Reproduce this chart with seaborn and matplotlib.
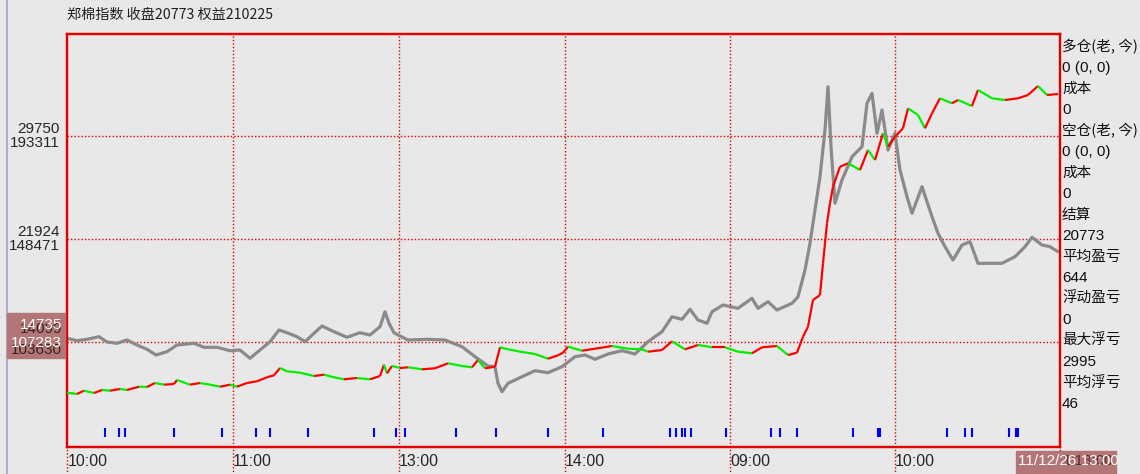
import numpy as np
import matplotlib
matplotlib.use('Agg')
import matplotlib.pyplot as plt
import seaborn as sns
from matplotlib import font_manager
from matplotlib.collections import LineCollection
from matplotlib.patches import Rectangle
from matplotlib.lines import Line2D

# --- data (x = bar index) ---
price_x = [0, 10, 17, 27, 35, 43, 53, 60, 72, 80, 88, 97, 107, 110, 123, 133, 143, 153, 163, 170,
           180, 190, 200, 207, 213, 220, 233, 247, 257, 267, 277, 290, 303, 313, 317, 320, 325, 333, 341, 355,
           368, 381, 395, 405, 411, 418, 428, 433, 441, 455, 468, 481, 491, 496, 501, 515, 528, 545, 561, 575,
           581, 595, 605, 618, 631, 645, 658, 671, 685, 695, 710, 721, 730, 736, 741, 746, 753, 756, 760, 763,
           766, 773, 781, 793, 801, 808, 816, 821, 828, 836, 841, 851, 858, 865, 873, 885, 891, 905, 911, 925,
           938, 951, 961, 971, 980, 991]
price = [10246, 10147, 10398, 10223, 10451, 10398, 10527, 10451, 10702, 10679, 10983, 10854, 10907, 11211,
         10854, 10983, 10854, 10702, 10854, 10702, 10983, 11112, 11416, 11568, 12123, 11872, 11765, 11515,
         11614, 11416, 11264, 11363, 11264, 11515, 12373, 11720, 12275, 12123, 12176, 12024, 12100, 12480,
         12275, 12176, 12730, 12100, 12221, 13695, 13543, 13338, 13186, 12829, 13088, 13285, 13741, 13437,
         13589, 13794, 13589, 13543, 13361, 13490, 14151, 13543, 13870, 13695, 13695, 13361, 13239, 13695,
         13794, 13110, 13285, 14501, 15261, 17289, 17669, 20078, 23117, 24636, 25898, 27417, 27676, 27167,
         28686, 27926, 29955, 28937, 29697, 30335, 31855, 31346, 30335, 31475, 32614, 32235, 32485, 32029,
         33245, 32614, 32485, 32614, 32865, 33549, 32865, 32941]

equity_x = [0, 10, 20, 32, 40, 50, 60, 70, 80, 89, 100, 110, 127, 137, 150, 163, 173, 183, 193, 203,
            212, 220, 230, 238, 247, 255, 267, 280, 293, 303, 313, 318, 322, 327, 333, 341, 361, 378, 395, 408,
            421, 428, 431, 435, 441, 455, 468, 481, 495, 508, 518, 528, 541, 555, 568, 581, 595, 605, 615, 623,
            631, 640, 645, 656, 671, 685, 691, 701, 710, 725, 731, 738, 743, 748, 753, 758, 761, 764, 768, 775,
            785, 795, 800, 805, 810, 815, 821, 828, 833, 840, 845, 855, 865, 871, 878, 886, 895, 903, 911, 921,
            935, 948, 958, 965, 975, 983, 991]
equity = [105246, 104201, 104810, 105942, 103635, 103069, 104506, 102329, 100457, 97976, 99413, 102329,
          103069, 101328, 101328, 99848, 100153, 96540, 100153, 103766, 108859, 107683, 105942, 103766,
          107422, 110600, 108119, 105681, 107683, 106682, 110295, 116825, 111775, 107683, 106247, 104506,
          104810, 104506, 101589, 97236, 93188, 92883, 85657, 82001, 85657, 88529, 91142, 90271, 92883,
          97236, 97976, 96104, 98411, 99848, 98411, 103766, 108119, 114648, 113516, 117869, 113212, 111775,
          116825, 119741, 118305, 122658, 118305, 121178, 117565, 120481, 123354, 134977, 146599, 161095,
          175590, 195919, 214767, 188649, 164011, 174154, 184296, 188649, 207541, 211894, 194482, 204625,
          187213, 194482, 178507, 166884, 159658, 171237, 158178, 150952, 145119, 139330, 145859, 147296,
          137893, 137893, 137893, 140766, 145119, 149211, 145859, 145119, 142943]

trade_marks = [38, 52, 58, 107, 155, 189, 203, 241, 307, 329, 338, 389, 429, 481, 536, 603, 609, 615, 618,
               624, 659, 704, 713, 730, 786, 811, 813, 880, 898, 905, 942, 949, 951]

time_pos = [1, 166, 332, 498, 663, 828]
time_labels = ['10:00', '11:00', '13:00', '14:00', '09:00', '10:00']
grid_x = [166, 332, 498, 663, 828]

price_ticks = [29750, 21924]
equity_ticks = [193311, 148471, 103630]

side_labels = ['多仓(老, 今)', '0 (0, 0)', '成本', '0', '空仓(老, 今)', '0 (0, 0)', '成本', '0',
               '结算', '20773', '平均盈亏', '644', '浮动盈亏', '0', '最大浮亏', '2995', '平均浮亏', '46']

BG = '#e8e8e8'
RED = '#e00000'

sns.set_theme(style='white')
names = {f.name for f in font_manager.fontManager.ttflist}
NARROW = 'Liberation Sans Narrow' if 'Liberation Sans Narrow' in names else 'Liberation Sans'
CJK = ['Noto Sans CJK SC', 'DejaVu Sans']
plt.rcParams['font.family'] = [NARROW, 'DejaVu Sans']

fig = plt.figure(figsize=(11.4, 4.74), dpi=100, facecolor=BG)
ax = fig.add_axes([67 / 1140, 27 / 474, 993 / 1140, 413 / 474])
ax.set_facecolor(BG)
ax2 = ax.twinx()

# grid (red dotted)
for gx in grid_x:
    ax.axvline(gx, color=RED, ls=(0, (1, 1.5)), lw=1, zorder=1)
for gy in equity_ticks:
    ax.axhline(gy, color=RED, ls=(0, (1, 1.5)), lw=1, zorder=1)

# equity curve (gray)
sns.lineplot(x=equity_x, y=equity, ax=ax, color='#8a8a8a', linewidth=2.3, zorder=2)

# price curve, red on up moves, green on down moves
pts = np.column_stack([price_x, price])
segs = np.stack([pts[:-1], pts[1:]], axis=1)
cols = ['#ff0000' if b >= a else '#00ee00' for a, b in zip(price[:-1], price[1:])]
ax2.add_collection(LineCollection(segs, colors=cols, linewidths=1.6, zorder=3))

# trade marks
ax.vlines(trade_marks, 0.024, 0.046, transform=ax.get_xaxis_transform(), color='#0000ff', lw=1.5)

ax.set_xlim(0, 993)
ax.set_ylim(57929, 237708)
ax2.set_ylim(6120, 37500)

# axis labels
ax.set_xticks(time_pos)
ax.set_xticklabels(time_labels, ha='left', fontsize=11.5)
ax.tick_params(axis='x', length=0, pad=5)
ax.vlines([0] + grid_x + [993], -0.07, 0, transform=ax.get_xaxis_transform(), color=RED,
          ls=(0, (1, 1.5)), lw=1, clip_on=False)

ax.set_yticks(equity_ticks[:2])
ax.set_yticklabels([str(v) for v in equity_ticks[:2]], va='top', fontsize=11)
ax2.yaxis.tick_left()
ax2.set_yticks(price_ticks)
ax2.set_yticklabels([str(v) for v in price_ticks], va='bottom', fontsize=11)
ax.tick_params(axis='y', length=0, pad=5)
ax2.tick_params(axis='y', length=0, pad=5)
ax.set_xlabel('')
ax.set_ylabel('')

for a in (ax, ax2):
    for s in a.spines.values():
        s.set_color(RED)
        s.set_linewidth(1.6)

# title
fig.text(67 / 1140, 1 - 15 / 474, '郑棉指数 收盘20773 权益210225', family=CJK, fontsize=10.2,
         va='center', ha='left', color='#202020')

# right side info
for i, lab in enumerate(side_labels):
    fam = CJK if any(ord(c) > 127 for c in lab) else [NARROW, 'DejaVu Sans']
    fig.text(1062 / 1140, 1 - (46.7 + 21 * i) / 474, lab, family=fam, fontsize=10.5 if fam == CJK else 11,
             va='center', ha='left', color='#101010')

# left thin border line
fig.add_artist(Line2D([7 / 1140, 7 / 1140], [0, 1], color='#a8b4c8', lw=1.5))

# highlighted boxes (crosshair readouts, overlapping as in the source)
fig.add_artist(Rectangle((7 / 1140, 1 - 358 / 474), 58 / 1140, 45 / 474, color='#b27676', zorder=5))
for txt, yy, c in [('14099', 329, '#3a2020'), ('103630', 350, '#3a2020'),
                   ('14735', 325, 'white'), ('107283', 343, 'white')]:
    fig.text(62 / 1140, 1 - yy / 474, txt, fontsize=11, ha='right', va='center', color=c, zorder=6)

fig.add_artist(Rectangle((1016 / 1140, 0), 100 / 1140, 23 / 474, color='#b27676', zorder=5))
fig.text(1063 / 1140, 1 - 461 / 474, '1:13:00', fontsize=11, ha='left', va='center', color='#5a3030', zorder=6)
fig.text(1018 / 1140, 1 - 461 / 474, '11/12/26 13:00', fontsize=11, ha='left', va='center', color='white', zorder=7)

fig.savefig('out.png', dpi=100, facecolor=BG)
